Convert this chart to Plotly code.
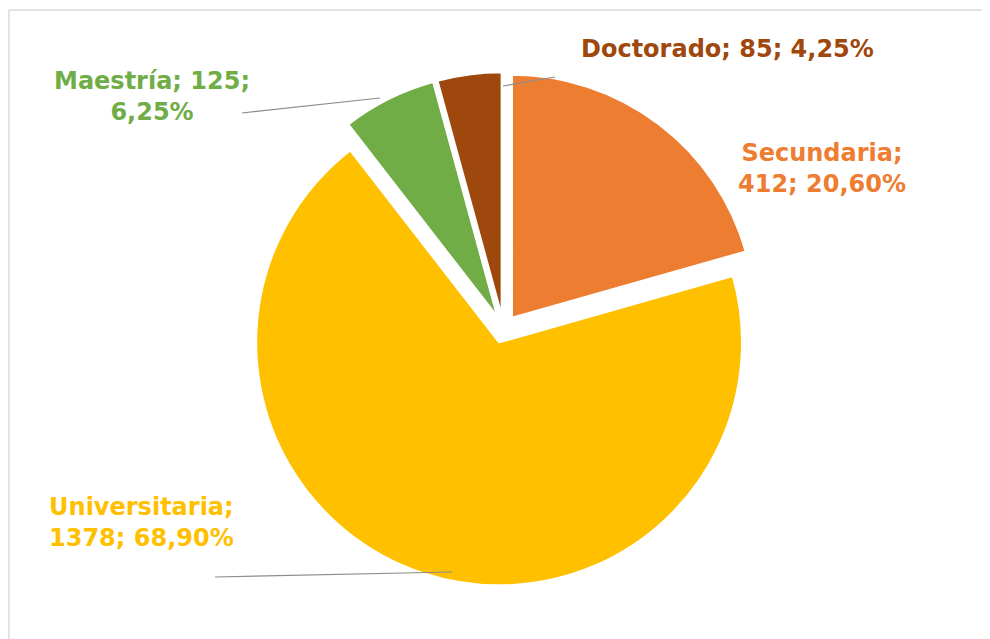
import plotly.graph_objects as go

# Data
categorias = ["Secundaria", "Universitaria", "Maestría", "Doctorado"]
cantidades = [412, 1378, 125, 85]
porcentajes = ["20,60%", "68,90%", "6,25%", "4,25%"]
colores = ["#ED7D31", "#FFC000", "#70AD47", "#9E480E"]

W, H = 990, 639
OFF = 8  # page margin around the plot div
FONT = "DejaVu Sans"


def px_x(x):
    return (x - OFF) / W


def px_y(y):
    return 1 - (y - OFF) / H


pie = go.Pie(
    labels=categorias, values=cantidades,
    sort=False, direction="clockwise", rotation=0,
    pull=[0.058] * len(categorias),
    marker=dict(colors=colores, line=dict(color="white", width=2)),
    textinfo="none", hoverinfo="label+value+percent",
    domain=dict(x=[px_x(246), px_x(761)], y=[px_y(586), px_y(72)]),
    showlegend=False,
)

fig = go.Figure(data=[pie])

# label positions (pixels) and line breaks, per category
label_pos = {
    "Secundaria": (822, 169, "{c};<br>{v}; {p}"),
    "Universitaria": (141, 522, "{c};<br>{v}; {p}"),
    "Maestría": (152, 96, "{c}; {v};<br>{p}"),
    "Doctorado": (727, 49, "{c}; {v}; {p}"),
}
for c, v, p, col in zip(categorias, cantidades, porcentajes, colores):
    x, y, fmt = label_pos[c]
    fig.add_annotation(
        x=px_x(x), y=px_y(y), xref="paper", yref="paper",
        text=fmt.format(c=c, v=v, p=p), showarrow=False,
        font=dict(family=FONT, size=24, color=col, weight="bold"),
        align="center", xanchor="center", yanchor="middle",
    )

# leader lines (pixels)
leaders = [
    (242, 113, 380, 98),
    (503, 86, 555, 77),
    (215, 577, 452, 572),
]
for x0, y0, x1, y1 in leaders:
    fig.add_shape(type="line", xref="paper", yref="paper",
                  x0=px_x(x0), y0=px_y(y0), x1=px_x(x1), y1=px_y(y1),
                  line=dict(color="#8c8c8c", width=1.2))

# chart frame (top and left edges visible)
fig.add_shape(type="line", xref="paper", yref="paper",
              x0=px_x(9), y0=px_y(10), x1=1, y1=px_y(10),
              line=dict(color="#e3e3e3", width=2))
fig.add_shape(type="line", xref="paper", yref="paper",
              x0=px_x(9), y0=px_y(10), x1=px_x(9), y1=0,
              line=dict(color="#e3e3e3", width=2))

fig.update_layout(
    width=W, height=H,
    margin=dict(l=0, r=0, t=0, b=0),
    paper_bgcolor="white", plot_bgcolor="white",
)

fig.write_html("out.html")
